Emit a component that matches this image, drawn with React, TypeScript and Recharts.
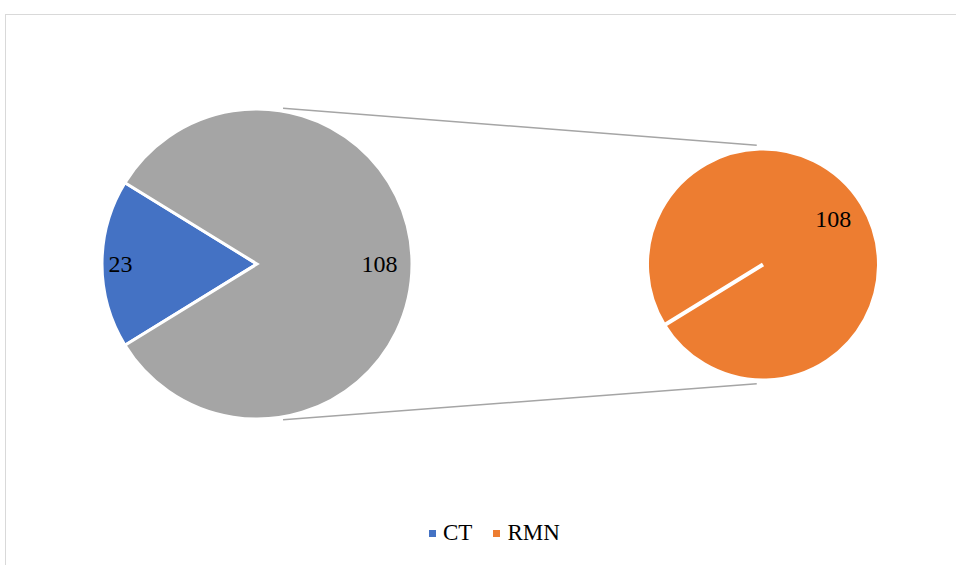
import React from "react";
import { PieChart, Pie, Cell, Legend } from "recharts";

// ---- data ----
const mainCategories = ["CT", "Otros"];
const mainValues = [23, 108];
const secondaryCategories = ["RMN"];
const secondaryValues = [108];
const legendLabels = ["CT", "RMN"];

const mainColors = ["#4472C4", "#A5A5A5"];
const secondaryColors = ["#ED7D31"];
const legendColors = ["#4472C4", "#ED7D31"];

const mainData = mainCategories.map((name, i) => ({ name, value: mainValues[i] }));
const secondaryData = secondaryCategories.map((name, i) => ({ name, value: secondaryValues[i] }));

// ---- geometry ----
const W = 956;
const H = 565;
const C1 = { x: 257, y: 264, r: 155 };
const C2 = { x: 763, y: 264.5, r: 116 };
const FONT = "'Liberation Serif', 'Times New Roman', serif";

const total = mainValues.reduce((a, b) => a + b, 0);
const halfFirst = (mainValues[0] / total) * 360 / 2;
const mainStart = 180 - halfFirst;
const secStart = 180 + halfFirst;

const RAD = Math.PI / 180;
const polar = (c: { x: number; y: number }, r: number, deg: number) => ({
  x: c.x + r * Math.cos(deg * RAD),
  y: c.y - r * Math.sin(deg * RAD),
});

const mainLabelFrac = [0.88, 0.79];
const renderMainLabel = (props: any) => {
  const { cx, cy, midAngle, outerRadius, index, value } = props;
  const p = polar({ x: cx, y: cy }, outerRadius * mainLabelFrac[index], midAngle);
  return (
    <text x={p.x} y={p.y} textAnchor="middle" dominantBaseline="central" fill="#000" fontFamily={FONT} fontSize={24}>
      {value}
    </text>
  );
};
const renderSecLabel = (props: any) => {
  const { cx, cy, midAngle, outerRadius, value } = props;
  const p = polar({ x: cx, y: cy }, outerRadius * 0.71, midAngle);
  return (
    <text x={p.x} y={p.y - 2} textAnchor="middle" dominantBaseline="central" fill="#000" fontFamily={FONT} fontSize={24}>
      {value}
    </text>
  );
};

const topL = polar(C1, C1.r + 3, 80.5);
const topR = polar(C2, C2.r + 3.5, 93);
const botL = polar(C1, C1.r + 3, -80.5);
const botR = polar(C2, C2.r + 3.5, -93);

const renderLegend = () => (
  <div style={{ display: "flex", alignItems: "center", marginLeft: 429, fontFamily: FONT, fontSize: 23, color: "#000" }}>
    {legendLabels.map((l, i) => (
      <div key={l} style={{ display: "flex", alignItems: "center", marginRight: 21 }}>
        <span style={{ width: 7, height: 7, background: legendColors[i], display: "inline-block", marginRight: 7 }} />
        <span>{l}</span>
      </div>
    ))}
  </div>
);

export default function App() {
  return (
    <div style={{ position: "absolute", left: 0, top: 0, width: W, height: H, overflow: "hidden", background: "#fff" }}>
      <div style={{ position: "absolute", left: 5, top: 14, width: 1000, height: 600, border: "1px solid #D9D9D9", boxSizing: "border-box" }} />
      <svg width={W} height={H} style={{ position: "absolute", left: 0, top: 0 }}>
        <line x1={topL.x} y1={topL.y} x2={topR.x} y2={topR.y} stroke="#A5A5A5" strokeWidth={1.5} />
        <line x1={botL.x} y1={botL.y} x2={botR.x} y2={botR.y} stroke="#A5A5A5" strokeWidth={1.5} />
      </svg>
      <div style={{ position: "absolute", left: 0, top: 0 }}>
        <PieChart width={W} height={H} margin={{ top: 0, right: 0, bottom: 0, left: 0 }}>
          <Pie
            data={mainData}
            dataKey="value"
            nameKey="name"
            cx={C1.x}
            cy={C1.y}
            outerRadius={C1.r}
            startAngle={mainStart}
            endAngle={mainStart + 360}
            stroke="#fff"
            strokeWidth={3}
            label={renderMainLabel}
            labelLine={false}
            isAnimationActive={false}
          >
            {mainData.map((d, i) => (
              <Cell key={d.name} fill={mainColors[i]} />
            ))}
          </Pie>
          <Pie
            data={secondaryData}
            dataKey="value"
            nameKey="name"
            cx={C2.x}
            cy={C2.y}
            outerRadius={C2.r}
            startAngle={secStart}
            endAngle={secStart - 360}
            stroke="#fff"
            strokeWidth={4}
            strokeLinecap="round"
            label={renderSecLabel}
            labelLine={false}
            isAnimationActive={false}
          >
            {secondaryData.map((d, i) => (
              <Cell key={d.name} fill={secondaryColors[i]} />
            ))}
          </Pie>
          <Legend content={renderLegend} wrapperStyle={{ position: "absolute", top: 520, left: 0, width: W }} />
        </PieChart>
      </div>
    </div>
  );
}
